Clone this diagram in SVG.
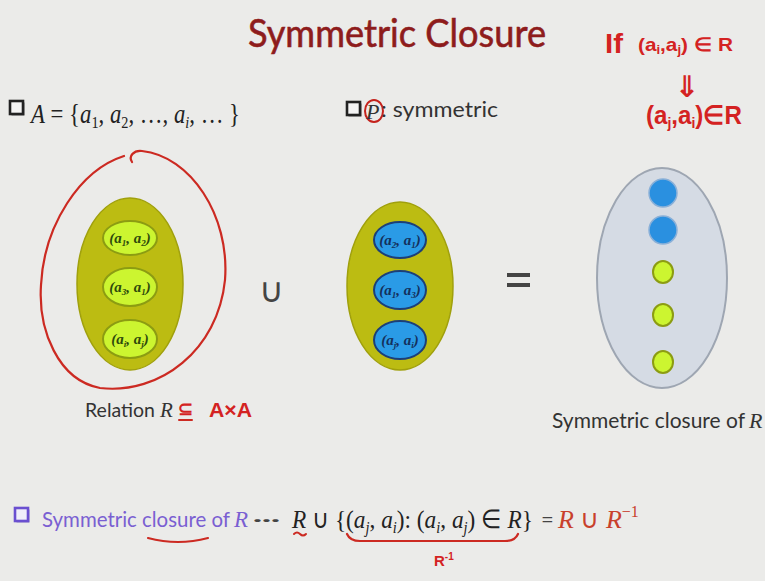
<svg xmlns="http://www.w3.org/2000/svg" width="765" height="581" viewBox="0 0 765 581">
<defs>
<style>
.sans{font-family:Lato,"Liberation Sans",sans-serif}
.math{font-family:"Liberation Serif",serif;font-style:italic}
.up{font-style:normal}
.hand{font-family:"Liberation Sans",sans-serif;fill:#d42222;font-weight:bold}
.lbl{font-family:"Liberation Serif",serif;font-style:italic;font-weight:bold;font-size:15px;text-anchor:middle}
.green{fill:#ccf530;stroke:#8c9c12;stroke-width:2}
.blue{fill:#2a9be6;stroke:#1c3f78;stroke-width:2}
.olive{fill:#bcbc12;stroke:#a0a00c;stroke-width:1.5}
.red{fill:none;stroke:#cc2a22;stroke-linecap:round}
</style>
<g id="box">
<rect x="1.5" y="1.5" width="13" height="13" fill="#777"/>
<rect x="0" y="0" width="13" height="13" fill="#f4f4f4" stroke="#222" stroke-width="2.6"/>
</g>
<g id="pbox">
<rect x="1.5" y="1.5" width="13" height="13" fill="#9a8fc8"/>
<rect x="0" y="0" width="13" height="13" fill="#f0eefa" stroke="#6a4fd0" stroke-width="2.6"/>
</g>
</defs>
<rect width="765" height="581" fill="#ebebe9"/>

<g id="title">
<text x="397" y="47" text-anchor="middle" font-size="38" fill="#8e1c1c" class="sans" stroke="#8e1c1c" stroke-width="0.6" textLength="298" lengthAdjust="spacingAndGlyphs">Symmetric Closure</text>
</g>

<g id="set-A">
<use href="#box" x="10" y="101"/>
<text x="31" y="123" class="math" font-size="27" fill="#222" textLength="209" lengthAdjust="spacingAndGlyphs">A<tspan class="up"> = {</tspan>a<tspan class="up" font-size="17" dy="5">1</tspan><tspan class="up" dy="-5">, </tspan>a<tspan class="up" font-size="17" dy="5">2</tspan><tspan class="up" dy="-5">, …, </tspan>a<tspan font-size="17" dy="5">i</tspan><tspan class="up" dy="-5">, … }</tspan></text>
</g>

<g id="p-symmetric">
<use href="#box" x="347" y="102"/>
<ellipse cx="374" cy="111" rx="9" ry="11" fill="none" stroke="#c4221c" stroke-width="2"/>
<text x="366" y="119" class="math" font-size="22" fill="#333">P</text>
<text x="381" y="117" class="sans" font-size="22" fill="#333" textLength="117" lengthAdjust="spacingAndGlyphs">: symmetric</text>
</g>

<g id="note">
<text x="605" y="53" class="hand" font-size="28" textLength="18" lengthAdjust="spacingAndGlyphs">If</text>
<text x="638" y="51" class="hand" font-size="19" textLength="95" lengthAdjust="spacingAndGlyphs">(a<tspan font-size="12" dy="3">i</tspan><tspan dy="-3">,a</tspan><tspan font-size="12" dy="3">j</tspan><tspan dy="-3">) ∈ R</tspan></text>
<text x="687" y="97" font-family="DejaVu Sans, sans-serif" font-weight="bold" fill="#d42222" font-size="30" text-anchor="middle">⇓</text>
<text x="646" y="124" class="hand" font-size="26" textLength="96" lengthAdjust="spacingAndGlyphs">(a<tspan font-size="15" dy="4">j</tspan><tspan dy="-4">,a</tspan><tspan font-size="15" dy="4">i</tspan><tspan dy="-4">)∈R</tspan></text>
</g>

<g id="relation-R">
<path class="red" stroke-width="2.2" d="M132 162 C128 156 134 150 142 151 C190 156 230 215 225 280 C218 350 160 395 100 388 C58 380 38 330 41 285 C44 225 80 170 124 156"/>
<ellipse class="olive" cx="130" cy="284" rx="53" ry="86"/>
<ellipse class="green" cx="130" cy="238" rx="27" ry="17"/>
<ellipse class="green" cx="130" cy="287" rx="27" ry="19"/>
<ellipse class="green" cx="130" cy="339" rx="27" ry="19"/>
<text class="lbl" x="130" y="243" fill="#2e4a0c">(a<tspan font-size="9" dy="3">1</tspan><tspan dy="-3">, a</tspan><tspan font-size="9" dy="3">2</tspan><tspan dy="-3">)</tspan></text>
<text class="lbl" x="130" y="292" fill="#2e4a0c">(a<tspan font-size="9" dy="3">3</tspan><tspan dy="-3">, a</tspan><tspan font-size="9" dy="3">1</tspan><tspan dy="-3">)</tspan></text>
<text class="lbl" x="130" y="344" fill="#2e4a0c">(a<tspan font-size="9" dy="3">i</tspan><tspan dy="-3">, a</tspan><tspan font-size="9" dy="3">j</tspan><tspan dy="-3">)</tspan></text>
<text x="85" y="417" class="sans" font-size="20" fill="#333" textLength="70" lengthAdjust="spacingAndGlyphs">Relation</text>
<text x="160" y="417" class="math" font-size="21" fill="#333">R</text>
<text x="178" y="415" class="hand" font-size="18">⊆</text>
<path class="red" stroke-width="2" d="M179 420 L192 420"/>
<text x="209" y="417" class="hand" font-size="20" textLength="43" lengthAdjust="spacingAndGlyphs">A×A</text>
</g>

<g id="union-op">
<text x="271" y="302" text-anchor="middle" font-family="Liberation Sans, sans-serif" font-size="34" fill="#444">∪</text>
</g>

<g id="relation-R-inv">
<ellipse class="olive" cx="400" cy="286" rx="53" ry="84"/>
<ellipse class="blue" cx="400" cy="240" rx="26" ry="18"/>
<ellipse class="blue" cx="400" cy="290" rx="26" ry="19"/>
<ellipse class="blue" cx="400" cy="340" rx="26" ry="19"/>
<text class="lbl" x="400" y="245" fill="#14305c">(a<tspan font-size="9" dy="3">2</tspan><tspan dy="-3">, a</tspan><tspan font-size="9" dy="3">1</tspan><tspan dy="-3">)</tspan></text>
<text class="lbl" x="400" y="295" fill="#14305c">(a<tspan font-size="9" dy="3">1</tspan><tspan dy="-3">, a</tspan><tspan font-size="9" dy="3">3</tspan><tspan dy="-3">)</tspan></text>
<text class="lbl" x="400" y="345" fill="#14305c">(a<tspan font-size="9" dy="3">j</tspan><tspan dy="-3">, a</tspan><tspan font-size="9" dy="3">i</tspan><tspan dy="-3">)</tspan></text>
</g>

<g id="equals-op">
<rect x="507" y="273" width="23" height="4" fill="#444"/>
<rect x="507" y="283" width="23" height="4" fill="#444"/>
</g>

<g id="closure">
<ellipse cx="662" cy="278" rx="65" ry="110" fill="#d5dbe4" stroke="#9ea6b2" stroke-width="2"/>
<circle cx="663" cy="193" r="14" fill="#2a90e0" stroke="#8ab0d8" stroke-width="1.5"/>
<circle cx="663" cy="230" r="14" fill="#2a90e0" stroke="#8ab0d8" stroke-width="1.5"/>
<ellipse class="green" cx="663" cy="272" rx="10" ry="11" stroke-width="1.5"/>
<ellipse class="green" cx="663" cy="315" rx="10" ry="11" stroke-width="1.5"/>
<ellipse class="green" cx="663" cy="362" rx="10" ry="11" stroke-width="1.5"/>
<text x="552" y="428" class="sans" font-size="22" fill="#333" textLength="193" lengthAdjust="spacingAndGlyphs">Symmetric closure of</text>
<text x="749" y="428" class="math" font-size="22" fill="#333">R</text>
</g>

<g id="definition">
<use href="#pbox" x="15" y="508"/>
<text x="42" y="527" class="sans" font-size="22" fill="#7a5fd2" textLength="188" lengthAdjust="spacingAndGlyphs">Symmetric closure of</text>
<text x="234" y="527" class="math" font-size="23" fill="#7a5fd2">R</text>
<text x="253" y="525" class="sans" font-size="16" fill="#444" font-weight="bold" textLength="27" lengthAdjust="spacingAndGlyphs">···</text>
<text x="292" y="528" class="math" font-size="26" fill="#222" textLength="241" lengthAdjust="spacingAndGlyphs">R<tspan class="up"> ∪ {(</tspan>a<tspan font-size="16" dy="5">j</tspan><tspan class="up" dy="-5">, </tspan>a<tspan font-size="16" dy="5">i</tspan><tspan class="up" dy="-5">): (</tspan>a<tspan font-size="16" dy="5">i</tspan><tspan class="up" dy="-5">, </tspan>a<tspan font-size="16" dy="5">j</tspan><tspan class="up" dy="-5">) ∈ </tspan><tspan dy="0">R</tspan><tspan class="up">}</tspan></text>
<text x="541" y="527" class="sans" font-size="22" fill="#444">=</text>
<text x="558" y="528" class="math" font-size="26" fill="#c8402c">R<tspan class="up"> ∪ </tspan>R<tspan class="up" font-size="16" dy="-11">−1</tspan></text>
<path class="red" stroke-width="2.2" d="M148 538 Q178 546 208 538"/>
<path class="red" stroke-width="2" d="M294 534 q3 -3 6 0 t6 0"/>
<path class="red" stroke-width="2.2" d="M347 534 Q350 541 360 541 L505 541 Q515 541 518 534"/>
<text x="434" y="566" class="hand" font-size="15">R<tspan font-size="10" dy="-6">-1</tspan></text>
</g>
</svg>
